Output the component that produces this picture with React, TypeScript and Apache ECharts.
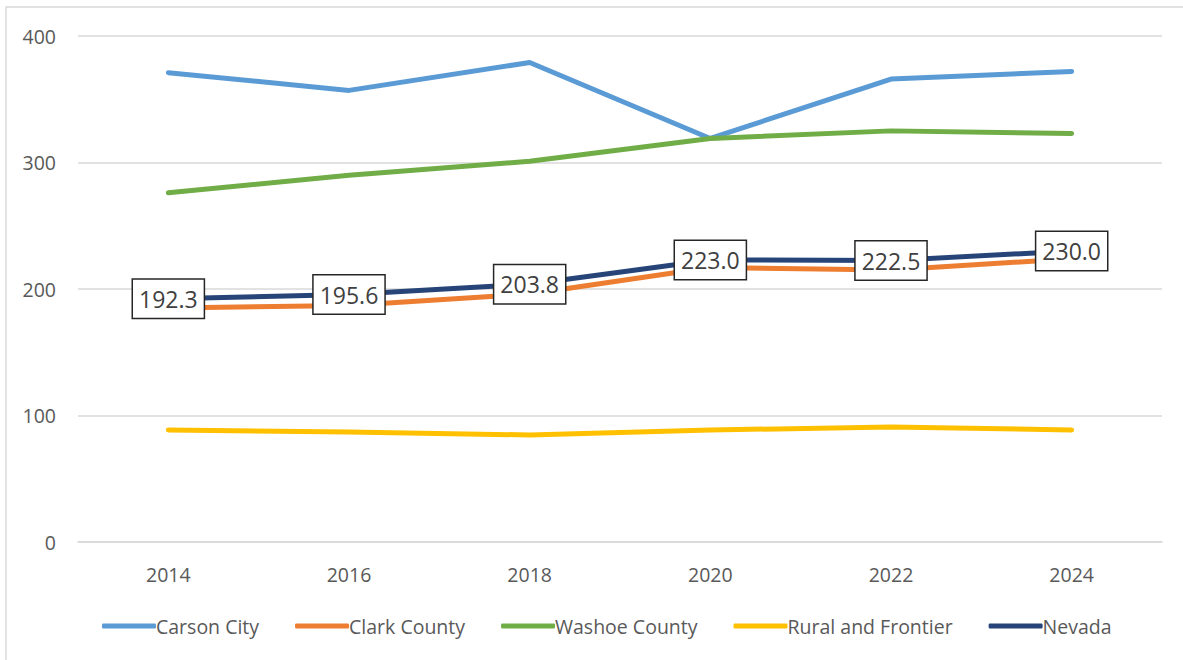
import React, { useEffect, useRef } from "react";
import * as echarts from "echarts";

const years = ["2014", "2016", "2018", "2020", "2022", "2024"];
const carsonCity = [371, 357, 379, 319, 366, 372];
const clarkCounty = [185, 187, 196, 217, 215, 224];
const washoeCounty = [276, 290, 301, 319, 325, 323];
const ruralFrontier = [88.5, 87, 84.6, 88.5, 91, 88.5];
const nevada = [192.3, 195.6, 203.8, 223.0, 222.5, 230.0];

const FONT = "Open Sans";
const TEXT = "#595959";

export default function App() {
  const ref = useRef<HTMLDivElement>(null);
  useEffect(() => {
    const chart = echarts.init(ref.current!, undefined, { renderer: "svg" });
    const line = (name: string, data: number[], color: string, extra: any = {}) => ({
      name,
      type: "line",
      data,
      symbol: "none",
      lineStyle: { width: 5, color, cap: "round", join: "round" },
      itemStyle: { color },
      ...extra,
    });
    chart.setOption({
      animation: false,
      backgroundColor: "#ffffff",
      graphic: [
        {
          type: "rect",
          shape: { x: 6, y: 7, width: 1200, height: 700 },
          style: { fill: "none", stroke: "#d9d9d9", lineWidth: 1.5 },
          silent: true,
          z: -10,
        },
      ],
      grid: { left: 78, right: 21, top: 36, bottom: 118, containLabel: false },
      legend: {
        bottom: 19,
        left: 97,
        itemWidth: 54,
        itemHeight: 5,
        itemGap: 36,
        icon: "roundRect",
        textStyle: { fontFamily: FONT, fontSize: 19.5, color: TEXT, padding: [0, 0, 0, -5] },
        data: ["Carson City", "Clark County", "Washoe County", "Rural and Frontier", "Nevada"],
      },
      xAxis: {
        type: "category",
        data: years,
        boundaryGap: true,
        axisLine: { show: true, lineStyle: { color: "#d9d9d9", width: 1.5 } },
        axisTick: { show: false },
        axisLabel: { fontFamily: FONT, fontSize: 19.5, color: TEXT, margin: 22 },
      },
      yAxis: {
        type: "value",
        min: 0,
        max: 400,
        interval: 100,
        axisLine: { show: false },
        axisTick: { show: false },
        splitLine: { lineStyle: { color: "#d9d9d9", width: 1.5 } },
        axisLabel: { fontFamily: FONT, fontSize: 19.5, color: TEXT, margin: 22 },
      },
      series: [
        line("Carson City", carsonCity, "#5B9BD5"),
        line("Clark County", clarkCounty, "#ED7D31"),
        line("Washoe County", washoeCounty, "#70AD47"),
        line("Rural and Frontier", ruralFrontier, "#FFC000"),
        line("Nevada", nevada, "#264478", {
          z: 5,
          symbol: "circle",
          symbolSize: 1,
          showSymbol: true,
          label: {
            show: true,
            position: "inside",
            formatter: (p: any) => Number(p.value).toFixed(1),
            fontFamily: FONT,
            fontSize: 23,
            lineHeight: 26,
            color: "#404040",
            backgroundColor: "#ffffff",
            borderColor: "#262626",
            borderWidth: 1.5,
            padding: [7, 6, 5, 6],
          },
        }),
      ],
    });
    return () => chart.dispose();
  }, []);
  return (
    <div
      ref={ref}
      style={{ position: "fixed", left: 0, top: 0, width: 1183, height: 660 }}
    />
  );
}
